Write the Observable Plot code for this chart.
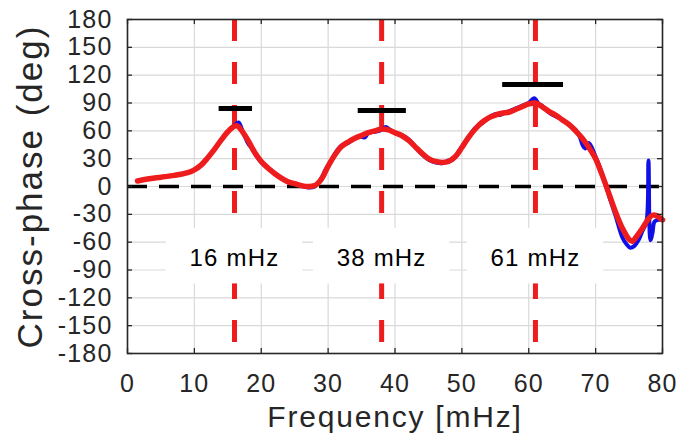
<!DOCTYPE html>
<html>
<head>
<meta charset="utf-8">
<script src="https://cdn.jsdelivr.net/npm/d3@7"></script>
<script src="https://cdn.jsdelivr.net/npm/@observablehq/plot@0.6"></script>
<style>
  html, body { margin: 0; padding: 0; background: #fff; }
  #chart svg { display: block; font-family: "Liberation Sans", Arial, sans-serif; }
  #chart svg text { letter-spacing: 1.2px; }
  #chart svg g.xlab text { letter-spacing: 1.8px; }
  #chart svg g.ylab text { letter-spacing: 2px; }
</style>
</head>
<body>
<div id="chart"></div>
<script>
// ---- data ----
const xTicks = [0, 10, 20, 30, 40, 50, 60, 70, 80];
const yTicks = [-180, -150, -120, -90, -60, -30, 0, 30, 60, 90, 120, 150, 180];
const xLabel = "Frequency [mHz]";
const yLabel = "Cross-phase (deg)";

// smoothed cross-phase (red)
const smoothFreq  = [1.5, 3, 5, 7, 9, 10, 11, 12, 13, 14, 15, 16, 16.5, 17, 18, 19, 20, 21, 22, 23, 24, 25, 26, 27, 28, 29, 30, 31, 32, 33, 34, 35, 36, 37, 38, 39, 40, 41, 42, 43, 44, 45, 46, 47, 48, 49, 50, 51, 52, 53, 54, 55, 56, 57, 58, 59, 60, 61, 62, 63, 64, 65, 66, 67, 68, 69, 70, 71, 72, 73, 74, 75, 75.5, 76, 77, 78, 78.5, 79, 80];
const smoothPhase = [6, 8, 10, 12, 15, 18, 23, 31, 40, 50, 59, 65, 65, 61, 50, 37, 27, 20, 14, 9, 5, 3, 1, 0, 1, 8, 22, 34, 43, 48, 52, 55, 58, 60, 62, 61, 58, 55, 50, 43, 36, 30, 27, 26, 27, 32, 42, 53, 62, 69, 74, 77, 79, 80, 83, 86, 89, 90, 86, 81, 77, 72, 67, 60, 52, 42, 30, 12, -8, -28, -45, -57, -59, -55, -45, -34, -31, -31, -36];

// raw cross-phase (blue)
const rawFreq  = [1.5, 3, 5, 7, 9, 10, 11, 12, 13, 14, 15, 16, 16.6, 17.2, 18, 18.6, 19.3, 20, 21, 21.6, 22.3, 23, 24, 25, 26, 27, 28, 29, 29.6, 30.3, 31, 32, 33, 33.8, 34.5, 35.5, 36, 37, 38, 38.6, 39.3, 40, 41, 41.6, 42.3, 43, 44, 45, 46, 47, 48, 48.6, 49.3, 50, 51, 52, 53, 54, 55, 55.6, 56.3, 57, 58, 59, 60, 60.8, 61.5, 62, 63, 63.6, 64.3, 65, 66, 67, 67.6, 68.1, 68.5, 69, 70, 71, 72, 73, 74, 74.6, 75.2, 75.8, 76.4, 77, 77.6, 77.9, 78.2, 78.5, 78.8, 79.3, 80];
const rawPhase = [6, 8, 10, 12, 15, 18, 23, 31, 40, 50, 59, 66, 69, 60, 47, 41, 33, 26, 20, 17, 12, 9, 5, 3, 1, -1, 0, 9, 18, 25, 35, 44, 47, 51, 54, 53, 58, 59, 61, 64, 61, 58, 55, 53, 49, 43, 35, 29, 26, 25, 28, 29, 35, 43, 53, 63, 68, 74, 78, 77, 79, 81, 84, 87, 90, 95, 89, 87, 80, 77, 75, 72, 67, 61, 54, 44, 41, 47, 32, 13, -10, -32, -55, -62, -66, -64, -58, -48, -38, 28, -58, -50, -38, -36, -36];

// peak annotations
const peakFreq   = [16, 38, 61];
const peakLabels = ["16 mHz", "38 mHz", "61 mHz"];
const barFreqLo  = [13.7, 34.5, 56.1];
const barFreqHi  = [18.7, 41.7, 65.2];
const barPhase   = [84, 82, 110];

// ---- tables built from arrays ----
const smooth = smoothFreq.map((f, i) => ({f, p: smoothPhase[i]}));
const raw = rawFreq.map((f, i) => ({f, p: rawPhase[i]}));
const peaks = peakFreq.map((f, i) => ({f, label: peakLabels[i], lo: barFreqLo[i], hi: barFreqHi[i], bar: barPhase[i]}));

const ink = "#262626";
const chart = Plot.plot({
  width: 679,
  height: 443,
  marginLeft: 127,
  marginRight: 17,
  marginTop: 19,
  marginBottom: 90,
  style: {fontFamily: "'Liberation Sans', Arial, sans-serif", background: "#fff", color: ink},
  x: {domain: [0, 80]},
  y: {domain: [-180, 180]},
  marks: [
    Plot.gridX(xTicks, {stroke: "#d9d9d9", strokeOpacity: 1, strokeWidth: 1.2}),
    Plot.gridY(yTicks, {stroke: "#d9d9d9", strokeOpacity: 1, strokeWidth: 1.2}),
    Plot.ruleY([0], {stroke: "#000", strokeWidth: 3.5, strokeDasharray: "20,12"}),
    Plot.ruleX(peaks, {x: "f", stroke: "#ee1c1c", strokeWidth: 5, strokeDasharray: "22,21"}),
    Plot.line(raw, {x: "f", y: "p", stroke: "#1010e6", strokeWidth: 4, curve: "catmull-rom"}),
    Plot.line(smooth, {x: "f", y: "p", stroke: "#ee1c1c", strokeWidth: 5.5, curve: "catmull-rom"}),
    Plot.ruleY(peaks, {y: "bar", x1: "lo", x2: "hi", stroke: "#000", strokeWidth: 5}),
    Plot.rect(peaks, {x1: d => d.f - 10.2, x2: d => d.f + 10.2, y1: -105, y2: -45, fill: "#fff"}),
    Plot.text(peaks, {x: "f", y: -75, text: "label", fontSize: 24, fill: "#000", dy: 2}),
    // inward ticks (MATLAB box style)
    Plot.ruleX(xTicks, {x: d => d, y1: -180, y2: -174.5, stroke: ink, strokeWidth: 1.3}),
    Plot.ruleX(xTicks, {x: d => d, y1: 180, y2: 174.5, stroke: ink, strokeWidth: 1.3}),
    Plot.ruleY(yTicks, {y: d => d, x1: 0, x2: 0.75, stroke: ink, strokeWidth: 1.3}),
    Plot.ruleY(yTicks, {y: d => d, x1: 80, x2: 79.25, stroke: ink, strokeWidth: 1.3}),
    Plot.frame({stroke: ink, strokeWidth: 1.6}),
    Plot.axisX(xTicks, {tickSize: 0, tickPadding: 21, fontSize: 25, fill: ink, label: null, tickFormat: d => String(d)}),
    Plot.axisY(yTicks, {tickSize: 0, tickPadding: 15, fontSize: 25, fill: ink, label: null, tickFormat: d => String(d)}),
    Plot.text([xLabel], {className: "xlab", frameAnchor: "bottom", dy: 64, lineAnchor: "middle", textAnchor: "middle", text: d => d, fontSize: 30, fill: ink}),
    Plot.text([yLabel], {className: "ylab", frameAnchor: "left", dx: -97, rotate: -90, lineAnchor: "middle", textAnchor: "middle", text: d => d, fontSize: 35, fill: ink})
  ]
});
document.getElementById("chart").appendChild(chart);
</script>
</body>
</html>
